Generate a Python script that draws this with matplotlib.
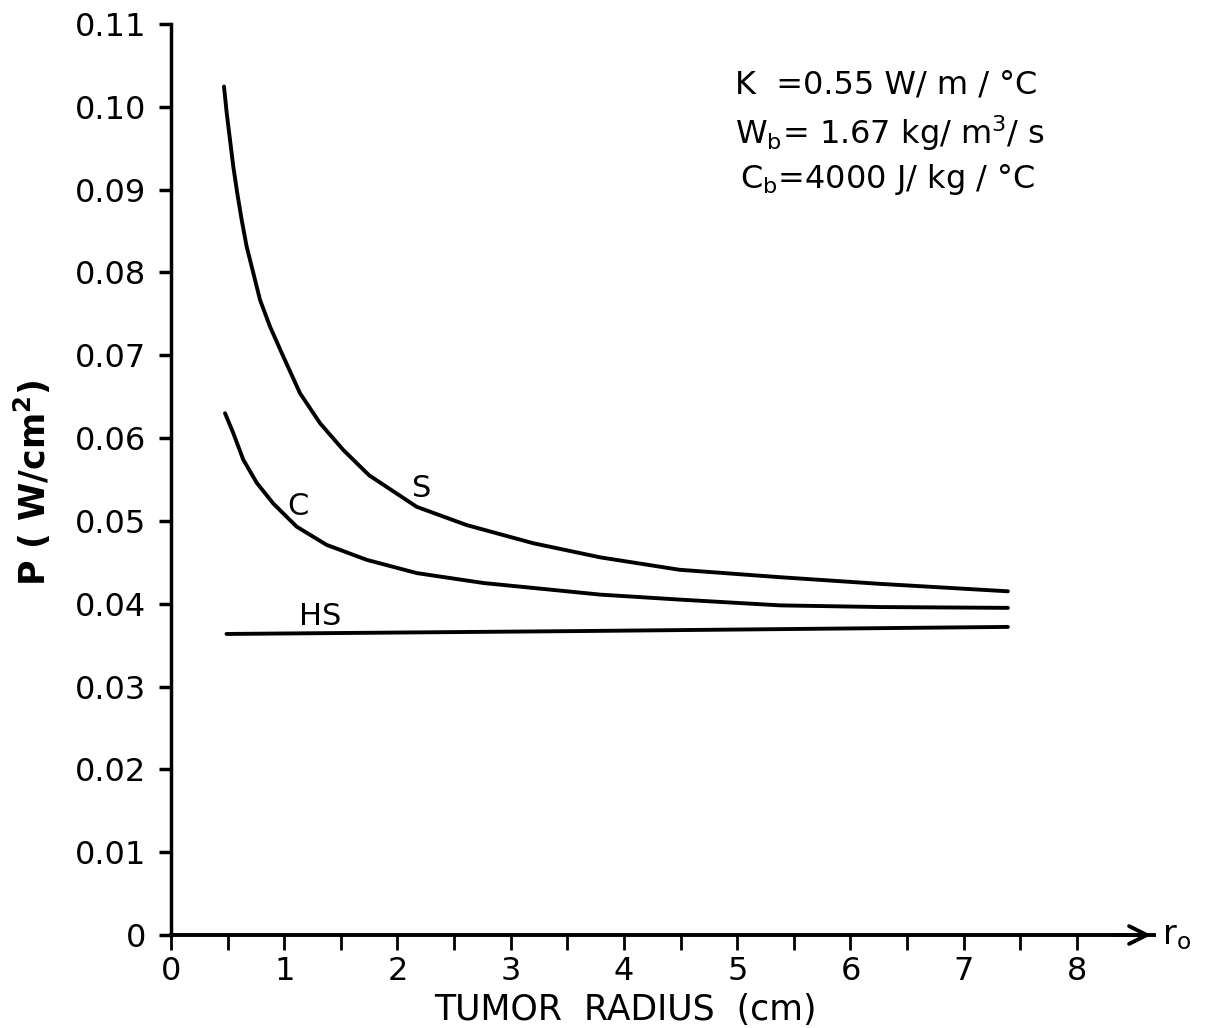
import numpy as np
import matplotlib
matplotlib.use("Agg")
import matplotlib.pyplot as plt

plt.rcParams['font.family'] = ['DejaVu Sans']
plt.rcParams['mathtext.default'] = 'regular'

# curve S (sphere)
s_r = [0.468, 0.492, 0.521, 0.550, 0.585, 0.624, 0.668, 0.727, 0.786, 0.874, 0.992, 1.139,
       1.316, 1.521, 1.750, 1.905, 2.17, 2.61, 3.20, 3.79, 4.49, 5.38, 6.26, 7.39]
s_p = [0.10245, 0.09924, 0.09601, 0.09279, 0.08958, 0.08635, 0.08313, 0.07992, 0.07669,
       0.07347, 0.06984, 0.06542, 0.06180, 0.05857, 0.05550, 0.0541, 0.0517, 0.0495,
       0.0473, 0.0456, 0.0441, 0.0432, 0.0424, 0.0415]

# curve C (cylinder)
c_r = [0.477, 0.550, 0.638, 0.757, 0.903, 1.11, 1.375, 1.728, 2.17, 2.76, 3.35, 3.79,
       4.49, 5.38, 6.26, 7.39]
c_p = [0.0630, 0.0606, 0.0574, 0.0546, 0.0521, 0.0493, 0.0471, 0.0453, 0.0437, 0.0425,
       0.0417, 0.0411, 0.0405, 0.0398, 0.0396, 0.0395]

# curve HS (half space)
hs_r = [0.49, 3.61, 7.39]
hs_p = [0.03635, 0.0367, 0.0372]

y_ticks = [0, 0.01, 0.02, 0.03, 0.04, 0.05, 0.06, 0.07, 0.08, 0.09, 0.10, 0.11]
y_labels = ["0", "0.01", "0.02", "0.03", "0.04", "0.05", "0.06", "0.07", "0.08", "0.09", "0.10", "0.11"]
x_ticks = np.arange(0, 8.01, 0.5)
x_labels = [str(int(t)) if t == int(t) else "" for t in x_ticks]

fig = plt.figure(figsize=(12.08, 10.28), dpi=100)
ax = fig.add_axes([171 / 1208, 93 / 1028, 983 / 1208, 911 / 1028])

lw = 2.8
ax.plot(s_r, s_p, color="black", lw=lw, solid_capstyle="round", solid_joinstyle="round")
ax.plot(c_r, c_p, color="black", lw=lw, solid_capstyle="round", solid_joinstyle="round")
ax.plot(hs_r, hs_p, color="black", lw=lw, solid_capstyle="round")

ax.text(2.21, 0.0539, "S", fontsize=22, ha="center", va="center")
ax.text(1.12, 0.0517, "C", fontsize=22, ha="center", va="center")
ax.text(1.315, 0.0384, "HS", fontsize=22, ha="center", va="center")

ax.text(4.98, 0.1026, "K  =0.55 W/ m / °C", fontsize=23, va="center")
ax.text(4.98, 0.0968, "W$_b$= 1.67 kg/ m$^3$/ s", fontsize=23, va="center")
ax.text(5.02, 0.0912, "C$_b$=4000 J/ kg / °C", fontsize=23, va="center")

ax.set_xlim(0, 8.68)
ax.set_ylim(0, 0.11)
ax.set_xticks(x_ticks)
ax.set_xticklabels(x_labels)
ax.set_yticks(y_ticks)
ax.set_yticklabels(y_labels)
ax.tick_params(axis="x", direction="out", length=11, width=2, labelsize=23, pad=4)
ax.tick_params(axis="y", direction="out", length=9, width=2.5, labelsize=23, pad=9)

for side in ["top", "right"]:
    ax.spines[side].set_visible(False)
ax.spines["left"].set_linewidth(2.5)
ax.spines["bottom"].set_linewidth(2.8)
ax.patch.set_visible(False)

# arrow at the end of the x axis
ax.annotate("", xy=(8.68, 0), xytext=(8.3, 0),
            arrowprops=dict(arrowstyle="->", lw=2.8, color="black", mutation_scale=32),
            annotation_clip=False)
ax.text(8.75, 0.0, "r$_o$", fontsize=24, ha="left", va="center", clip_on=False)

fig.text(625 / 1208, 1 - 1010 / 1028, "TUMOR  RADIUS  (cm)", fontsize=25,
         ha="center", va="center")
fig.text(32 / 1208, 1 - 483 / 1028, "P ( W/cm$^2$)", fontsize=25, fontweight="bold",
         rotation=90, ha="center", va="center")

fig.savefig("out.png", dpi=100)
